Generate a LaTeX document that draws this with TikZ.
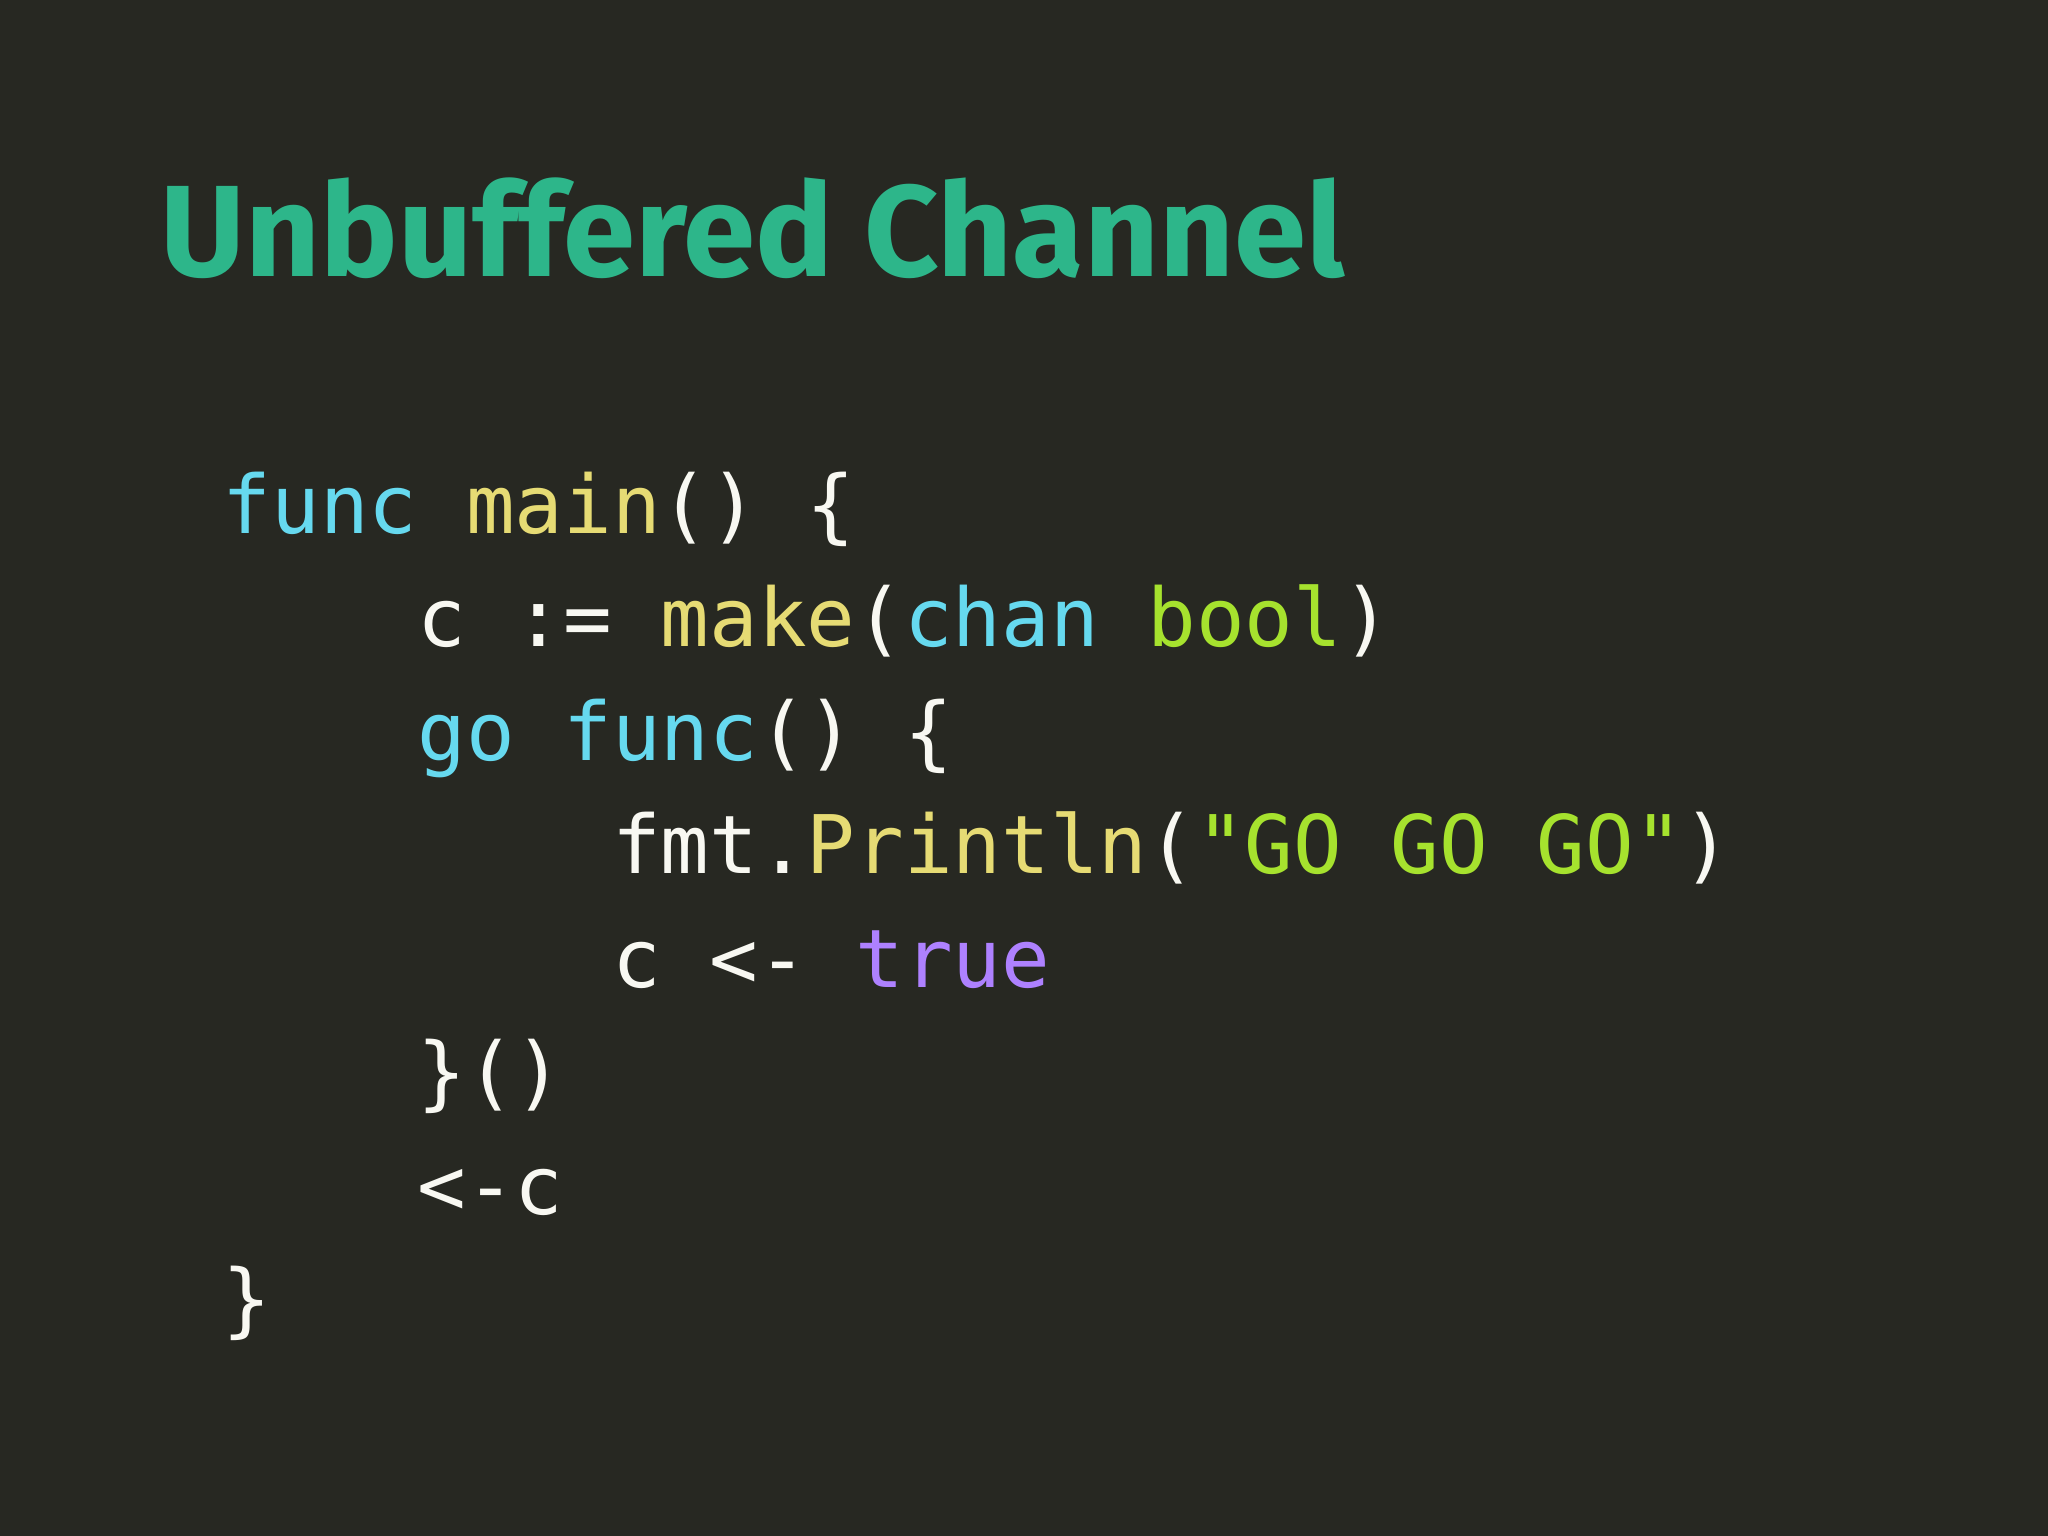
\documentclass[tikz,border=0pt]{standalone}
\usepackage{fontspec}
\setmainfont{Fira Sans}
\newfontfamily\codefont{DejaVu Sans Mono}
\definecolor{bg}{HTML}{272822}
\definecolor{ttl}{HTML}{2DB68A}
\definecolor{kw}{HTML}{66D9EF}
\definecolor{fn}{HTML}{E6DB74}
\definecolor{gr}{HTML}{A6E22E}
\definecolor{pu}{HTML}{AE81FF}
\definecolor{wh}{HTML}{F8F8F2}
\newcommand{\K}[1]{\textcolor{kw}{#1}}
\newcommand{\F}[1]{\textcolor{fn}{#1}}
\newcommand{\G}[1]{\textcolor{gr}{#1}}
\newcommand{\Pu}[1]{\textcolor{pu}{#1}}
\tikzset{codeline/.style={anchor=base west,inner sep=0pt,text=wh,font=\codefont\fontsize{23pt}{28pt}\selectfont}}
\begin{document}
\begin{tikzpicture}
\fill[bg] (0,0) rectangle (20.48,-15.36);
\useasboundingbox (0,0) rectangle (20.48,-15.36);
\node[anchor=base west,inner sep=0pt,text=ttl,font=\bfseries\fontsize{37pt}{40pt}\selectfont] (title) at (1.60,-2.77) {Unbuffered Channel};
\def\cx{2.22}
\node[codeline] (l1) at (\cx,-5.33) {\K{func} \F{main}() \{};
\node[codeline] (l2) at (\cx,-6.465) {\phantom{xxxx}c := \F{make}(\K{chan} \G{bool})};
\node[codeline] (l3) at (\cx,-7.60) {\phantom{xxxx}\K{go} \K{func}() \{};
\node[codeline] (l4) at (\cx,-8.735) {\phantom{xxxxxxxx}fmt.\F{Println}(\G{"GO GO GO"})};
\node[codeline] (l5) at (\cx,-9.87) {\phantom{xxxxxxxx}c <- \Pu{true}};
\node[codeline] (l6) at (\cx,-11.005) {\phantom{xxxx}\}()};
\node[codeline] (l7) at (\cx,-12.14) {\phantom{xxxx}<-c};
\node[codeline] (l8) at (\cx,-13.275) {\}};
\end{tikzpicture}
\end{document}
